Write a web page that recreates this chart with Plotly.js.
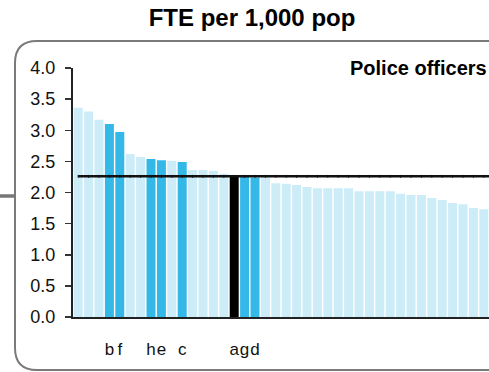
<!DOCTYPE html>
<html>
<head>
<meta charset="utf-8">
<script src="https://cdn.plot.ly/plotly-3.0.1.min.js"></script>
<style>
html,body{margin:0;padding:0;background:#fff;overflow:hidden;}
#chart{width:489px;height:372px;}
</style>
</head>
<body>
<div id="chart"></div>
<script>
// ---- data ----
const values = [3.36, 3.30, 3.17, 3.10, 2.97, 2.62, 2.57, 2.54, 2.52, 2.51,
                2.49, 2.36, 2.36, 2.35, 2.30, 2.27, 2.25, 2.24, 2.24, 2.15,
                2.14, 2.12, 2.09, 2.07, 2.07, 2.07, 2.07, 2.02, 2.02, 2.02,
                2.02, 1.98, 1.96, 1.96, 1.91, 1.88, 1.83, 1.81, 1.75, 1.73];
const tickLabels = ['', '', '', 'b', 'f', '', '', 'h', 'e', '',
                    'c', '', '', '', '', 'a', 'g', 'd', '', '',
                    '', '', '', '', '', '', '', '', '', '',
                    '', '', '', '', '', '', '', '', '', ''];
const groups = ['other','other','other','peer','peer','other','other','peer','peer','other',
                'peer','other','other','other','other','self','peer','peer','other','other',
                'other','other','other','other','other','other','other','other','other','other',
                'other','other','other','other','other','other','other','other','other','other'];
const meanValue = 2.26;
const chartTitle = 'FTE per 1,000 pop';
const panelLabel = 'Police officers';
const yTickVals = [0, 0.5, 1, 1.5, 2, 2.5, 3, 3.5, 4];

// ---- styling ----
const colorMap = {other: '#CCEDF8', peer: '#33B8E8', self: '#000000'};
const FONT = 'Liberation Sans, Arial, Helvetica, sans-serif';
const idx = values.map((v, i) => i);

// pixel -> paper helpers for decoration
const W = 489, H = 372;
const M = {l: 73, r: 0, t: 68, b: 55};
const pw = W - M.l - M.r, ph = H - M.t - M.b;
const px = x => (x - M.l) / pw;
const py = y => (H - M.b - y) / ph;

function roundRect(x0, y0, x1, y1, r) {
  return 'M ' + px(x0 + r) + ' ' + py(y0) +
    ' L ' + px(x1 - r) + ' ' + py(y0) +
    ' Q ' + px(x1) + ' ' + py(y0) + ' ' + px(x1) + ' ' + py(y0 + r) +
    ' L ' + px(x1) + ' ' + py(y1 - r) +
    ' Q ' + px(x1) + ' ' + py(y1) + ' ' + px(x1 - r) + ' ' + py(y1) +
    ' L ' + px(x0 + r) + ' ' + py(y1) +
    ' Q ' + px(x0) + ' ' + py(y1) + ' ' + px(x0) + ' ' + py(y1 - r) +
    ' L ' + px(x0) + ' ' + py(y0 + r) +
    ' Q ' + px(x0) + ' ' + py(y0) + ' ' + px(x0 + r) + ' ' + py(y0) + ' Z';
}

const bars = {
  type: 'bar',
  x: idx,
  y: values,
  marker: {color: groups.map(g => colorMap[g]), line: {width: 0}},
  hoverinfo: 'skip',
  showlegend: false
};

const meanTicks = {
  type: 'scatter',
  mode: 'markers',
  x: idx,
  y: values.map(() => meanValue),
  marker: {symbol: 'line-ns', size: 2, line: {width: 1, color: '#000'}},
  hoverinfo: 'skip',
  showlegend: false
};

const layout = {
  width: W, height: H,
  margin: M,
  paper_bgcolor: '#fff',
  plot_bgcolor: '#fff',
  bargap: 0.135,
  font: {family: FONT, color: '#111'},
  title: {
    text: '<b>' + chartTitle + '</b>',
    font: {family: FONT, size: 24, color: '#000'},
    xref: 'container', x: 252 / W, xanchor: 'center',
    yref: 'container', y: 1 - 18 / H, yanchor: 'middle'
  },
  xaxis: {
    range: [-0.5, values.length - 0.5],
    tickmode: 'array', tickvals: idx, ticktext: tickLabels,
    tickangle: 0,
    ticks: '', showgrid: false, zeroline: false,
    showline: true, linecolor: '#222', linewidth: 2,
    tickfont: {family: FONT, size: 17, color: '#111'},
    ticklabelstandoff: 16,
    fixedrange: true
  },
  yaxis: {
    range: [0, 4],
    tickmode: 'array', tickvals: yTickVals,
    tickformat: '.1f',
    ticks: 'outside', ticklen: 6, tickwidth: 1.5, tickcolor: '#333',
    showgrid: false, zeroline: false,
    showline: true, linecolor: '#222', linewidth: 2,
    tickfont: {family: FONT, size: 18, color: '#111'},
    ticklabelstandoff: 6,
    fixedrange: true
  },
  shapes: [
    {type: 'line', xref: 'x', yref: 'y', x0: 0, x1: values.length - 0.5,
     y0: meanValue, y1: meanValue, line: {color: '#111', width: 2.5}, layer: 'above'},
    {type: 'path', xref: 'paper', yref: 'paper', path: roundRect(15, 41, 508, 370, 22),
     line: {color: '#7a7a7a', width: 2}, layer: 'below'},
    {type: 'line', xref: 'paper', yref: 'paper', x0: px(0), x1: px(15), y0: py(196), y1: py(196),
     line: {color: '#777', width: 3.5}, layer: 'below'}
  ],
  annotations: [
    {text: '<b>' + panelLabel + '</b>', xref: 'paper', yref: 'paper',
     x: px(489), xanchor: 'right', y: py(68), yanchor: 'middle',
     showarrow: false, font: {family: FONT, size: 20, color: '#000'}}
  ]
};

Plotly.newPlot('chart', [bars, meanTicks], layout, {displayModeBar: false, staticPlot: true});
</script>
</body>
</html>
